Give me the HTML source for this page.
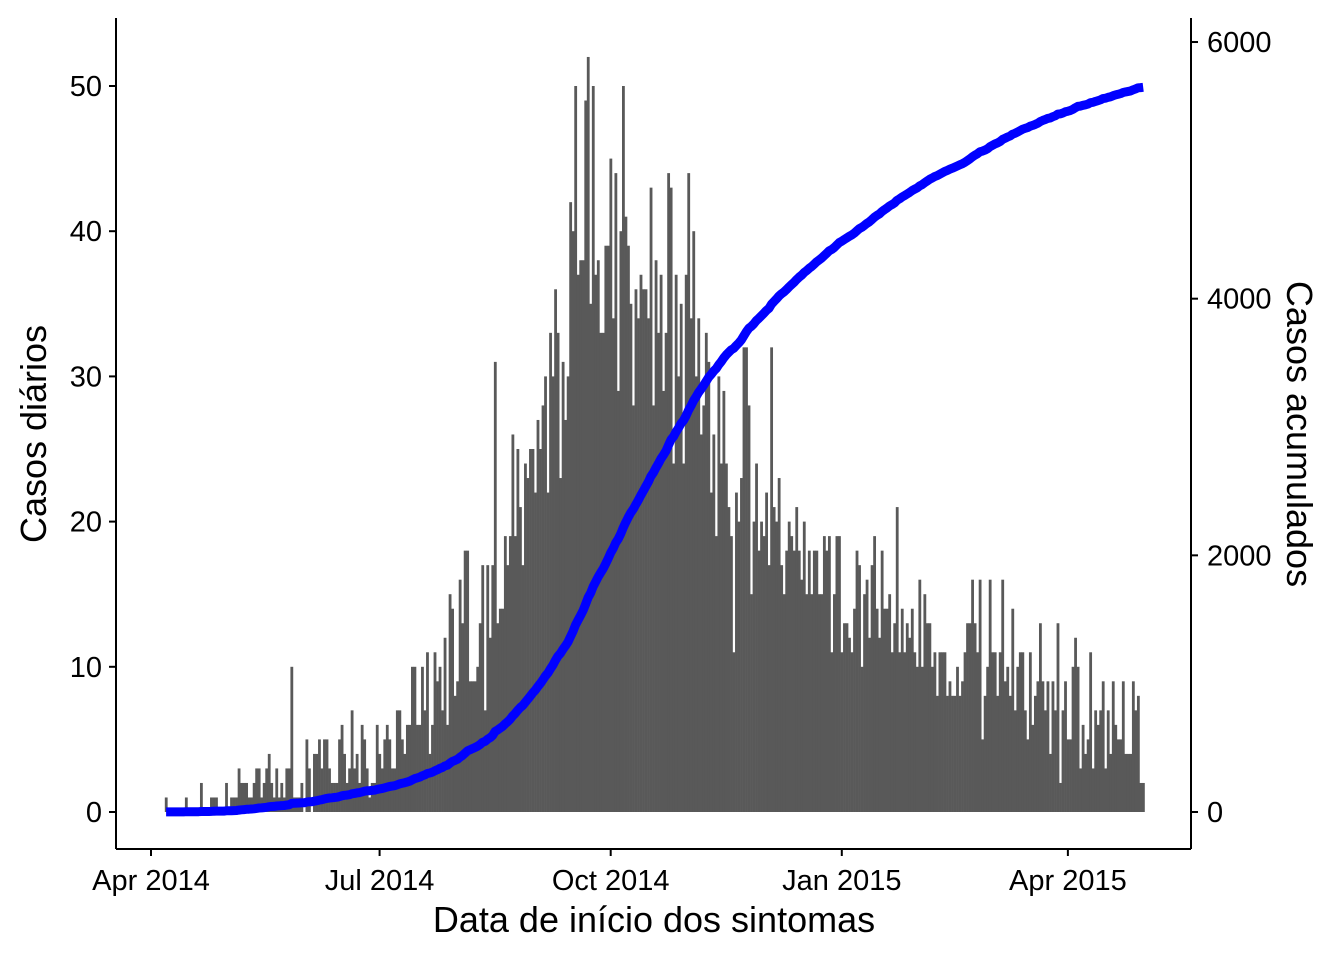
<!DOCTYPE html>
<html><head><meta charset="utf-8"><style>
body{margin:0;background:#fff}
svg text{font-family:"Liberation Sans",Arial,sans-serif;fill:#000}
</style></head><body>
<svg id="chart" width="1344" height="960" xmlns="http://www.w3.org/2000/svg">
<g id="bars"></g>
<path id="cumline" fill="none" stroke="#0000ff" stroke-width="9" stroke-linejoin="round"/>
<g stroke="#000" stroke-width="2" fill="none">
<line x1="116" y1="18" x2="116" y2="849"/>
<line x1="116" y1="849" x2="1191" y2="849"/>
<line x1="1191" y1="18" x2="1191" y2="849"/>
</g>
<g id="ticks"></g>
<text x="654" y="932" font-size="36" text-anchor="middle">Data de início dos sintomas</text>
<text transform="translate(46,434) rotate(-90)" font-size="36" text-anchor="middle">Casos diários</text>
<text transform="translate(1287,434) rotate(90)" font-size="36" text-anchor="middle">Casos acumulados</text>
</svg>
<script>
const startDayOffset = 6; // first bar: days after 1 Apr 2014
const dailyCases = [
1,0,0,0,0,0,0,0,1,0,0,0,0,0,2,0,0,0,1,1,1,0,0,0,2,0,1,1,1,3,
2,2,2,1,1,2,3,3,1,2,3,4,2,1,3,1,2,1,3,3,10,1,1,1,2,0,5,3,0,4,
4,5,3,5,5,3,2,2,2,5,
6,4,2,3,7,3,4,2,6,5,3,1,2,2,6,4,3,5,6,5,3,3,7,7,5,4,6,6,10,10,
6,6,10,7,11,4,6,11,9,10,7,12,6,15,14,8,9,16,13,18,18,9,9,9,10,13,17,7,17,12,
17,31,13,14,14,19,17,19,26,19,25,21,
17,24,23,25,25,22,27,25,28,30,22,33,30,36,33,23,31,27,30,42,
40,50,37,38,38,49,52,35,50,37,38,33,33,39,39,45,34,44,29,40,
50,41,39,35,28,36,34,37,36,36,34,43,28,38,33,37,29,33,44,43,
24,37,30,35,24,37,44,34,40,30,34,26,28,33,31,22,26,19,30,24,
29,24,21,19,11,22,20,23,32,32,28,15,20,24,18,20,19,22,17,32,
21,20,23,17,15,18,20,19,18,21,18,16,20,15,18,15,18,18,15,15,
19,18,19,11,15,19,19,
11,13,13,12,11,14,18,17,10,15,16,12,17,19,14,12,18,14,14,15,
11,13,21,11,14,11,13,12,14,11,10,16,10,15,13,13,10,11,8,11,
11,11,8,9,8,8,10,8,9,11,13,13,16,13,11,16,5,8,10,16,
11,11,8,11,16,9,10,8,14,7,10,11,11,7,5,11,6,8,9,13,
9,7,9,4,9,7,13,2,7,9,5,5,10,12,10,3,6,4,5,11,
3,7,6,7,9,3,7,4,9,6,5,5,9,4,4,4,9,7,8,2,2
];
const leftTicks = [0,10,20,30,40,50];
const rightTicks = [0,2000,4000,6000];
const xTickLabels = ["Apr 2014","Jul 2014","Oct 2014","Jan 2015","Apr 2015"];
const xTickDays = [0,91,183,275,365];

const NS="http://www.w3.org/2000/svg";
const pxPerDay=2.512;
const xScale=d=>151+pxPerDay*d;
const yL=v=>812-v*14.52;
const yR=v=>812-v*0.12833;

const bars=document.getElementById('bars');
dailyCases.forEach((v,i)=>{
  if(v<=0) return;
  const r=document.createElementNS(NS,'rect');
  const cx=xScale(startDayOffset+i);
  r.setAttribute('x',cx-pxPerDay/2);
  r.setAttribute('width',pxPerDay+0.3);
  r.setAttribute('y',yL(v));
  r.setAttribute('height',yL(0)-yL(v));
  r.setAttribute('fill','#595959');
  
  
  bars.appendChild(r);
});
let cum=0,d='';
dailyCases.forEach((v,i)=>{cum+=v;d+=(i?'L':'M')+xScale(startDayOffset+i).toFixed(1)+','+yR(cum).toFixed(1);});
document.getElementById('cumline').setAttribute('d',d);

const tg=document.getElementById('ticks');
function add(tag,attrs,text){const e=document.createElementNS(NS,tag);for(const k in attrs)e.setAttribute(k,attrs[k]);if(text!==undefined)e.textContent=text;tg.appendChild(e);return e;}
leftTicks.forEach(v=>{
  const l=add('line',{x1:109,x2:116,y1:yL(v),y2:yL(v),stroke:'#000','stroke-width':2});
  
  
  const t=add('text',{x:102,y:yL(v)+10,'font-size':29,'text-anchor':'end'},v);
  
  
});
rightTicks.forEach(v=>{
  const l=add('line',{x1:1191,x2:1198,y1:yR(v),y2:yR(v),stroke:'#000','stroke-width':2});
  
  
  const t=add('text',{x:1207,y:yR(v)+10,'font-size':29,'text-anchor':'start'},v);
  
  
});
xTickDays.forEach((dd,i)=>{
  const x=xScale(dd);
  const l=add('line',{x1:x,x2:x,y1:849,y2:856,stroke:'#000','stroke-width':2});
  
  
  const t=add('text',{x:x,y:890,'font-size':29,'text-anchor':'middle'},xTickLabels[i]);
  
  
});
</script>
</body></html>
